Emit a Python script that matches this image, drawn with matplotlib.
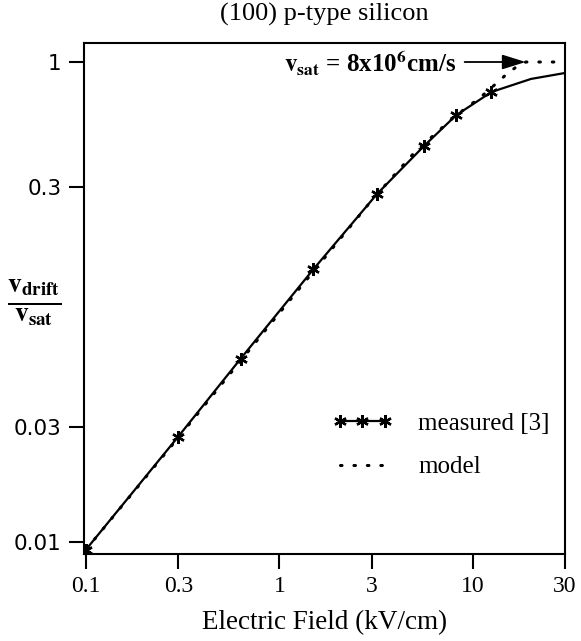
import matplotlib
matplotlib.use("Agg")
import matplotlib.pyplot as plt

# drift velocity vs field, (100) p-type Si
field_meas = [0.1, 0.3, 0.63, 1.5, 3.2, 5.6, 8.2, 12.5, 20.0, 30.0]
v_meas = [0.0093, 0.0275, 0.058, 0.137, 0.282, 0.447, 0.60, 0.75, 0.85, 0.90]
n_star = 8  # asterisks only on the measured points

field_model = [0.1, 0.3, 1.0, 3.0, 5.0, 8.0, 10.9, 13.6, 15.2, 17.0, 18.8, 30.0]
v_model = [0.0093, 0.0272, 0.090, 0.265, 0.42, 0.59, 0.71, 0.83, 0.90, 0.96, 1.0, 1.0]

xticks = [0.1, 0.3, 1, 3, 10, 30]
xticklabels = ["0.1", "0.3", "1", "3", "10", "30"]
yticks = [0.01, 0.03, 0.3, 1]
yticklabels = ["0.01", "0.03", "0.3", "1"]

plt.rcParams["font.family"] = ["Liberation Serif", "DejaVu Serif"]
plt.rcParams["mathtext.fontset"] = "stix"

fig = plt.figure(figsize=(5.81, 6.41), dpi=100)
ax = fig.add_axes([84/581, 87/641, 481/581, 511/641])
ax.set_xscale("log")
ax.set_yscale("log")

ax.plot(field_meas, v_meas, color="black", lw=1.6,
        marker=(6, 2, 0), ms=9, mew=1.7, markevery=list(range(n_star)),
        label="measured [3]")
ax.plot(field_model, v_model, color="black", lw=2.2,
        linestyle=(0, (0.5, 3.9)), dash_capstyle="round", label="model")

ax.set_xlim(0.0976, 30)
ax.set_ylim(0.00891, 1.20)

ax.minorticks_off()
ax.set_xticks(xticks)
ax.set_xticklabels(xticklabels, fontsize=17)
ax.set_yticks(yticks)
ax.set_yticklabels(yticklabels, fontsize=15.5, family="DejaVu Sans")
ax.tick_params(direction="out", length=11, width=1.5, pad=5,
               top=False, right=False)
for s in ax.spines.values():
    s.set_linewidth(1.5)

ax.set_title("(100) p-type silicon", fontsize=19, pad=16)
ax.set_xlabel("Electric Field (kV/cm)", fontsize=19.5, labelpad=9)
fig.text(0.058, 0.528,
         r"$\frac{\mathbf{v}_{\mathbf{drift}}}{\mathbf{v}_{\mathbf{sat}}}$",
         fontsize=28, ha="center", va="center")

ax.annotate(r"$\mathbf{v_{sat}}$ = 8x10$^{\mathbf{6}}$cm/s",
            xy=(18.8, 1.0), xytext=(-50, 0), textcoords="offset points",
            ha="right", va="center", fontsize=18, fontweight="bold",
            arrowprops=dict(arrowstyle="-|>,head_length=0.8,head_width=0.25",
                            color="black", lw=1.3, shrinkA=4, shrinkB=0))

leg = ax.legend(loc="center left", bbox_to_anchor=(0.5156, 0.213),
                frameon=False, numpoints=3, fontsize=18,
                handlelength=2.4, handletextpad=1.05, labelspacing=0.85,
                borderaxespad=0, borderpad=0)

fig.savefig("out.png", dpi=100, facecolor="white")
